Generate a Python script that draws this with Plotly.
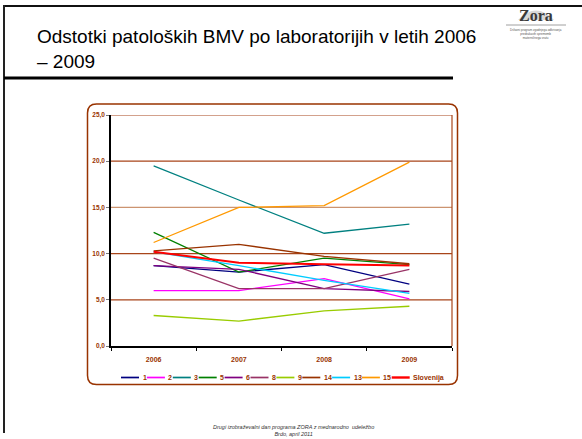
import plotly.graph_objects as go

# ---------------- data ----------------
years = ["2006", "2007", "2008", "2009"]
series_names = ["1", "2", "3", "5", "6", "8", "9", "14", "13", "15", "Slovenija"]
lab_1 = [8.7, 8.0, 8.8, 6.7]
lab_2 = [6.0, 6.0, 7.3, 5.1]
lab_3 = [19.5, 15.8, 12.2, 13.2]
lab_5 = [12.3, 8.0, 9.5, 8.8]
lab_6 = [8.7, 8.3, 6.2, 5.9]
lab_8 = [9.5, 6.2, 6.2, 8.3]
lab_9 = [3.3, 2.7, 3.8, 4.3]
lab_14 = [10.3, 11.0, 9.7, 8.9]
lab_13 = [10.2, 8.7, 7.1, 5.7]
lab_15 = [11.2, 15.0, 15.2, 19.9]
slovenija = [10.2, 9.0, 8.85, 8.7]
y_ticks = [0, 5, 10, 15, 20, 25]

series_values = [lab_1, lab_2, lab_3, lab_5, lab_6, lab_8, lab_9, lab_14, lab_13, lab_15, slovenija]
colors = ["#000080", "#FF00FF", "#008080", "#008000", "#800080", "#993366",
          "#99CC00", "#993300", "#00CCFF", "#FF9900", "#FF0000"]
widths = [1.3] * 10 + [2.0]

BROWN = "#993300"
GRID = "#A8451A"
FONT = "Liberation Sans, Arial, sans-serif"

# ---------------- geometry helpers (pixels -> paper) ----------------
W, H = 582, 439
ML, MR, MT, MB = 111, 130, 115, 93
PW, PH = W - ML - MR, H - MT - MB


def px(x):
    return (x - ML) / PW


def py(y):
    return 1 - (y - MT) / PH


fig = go.Figure()
for name, vals, c, w in zip(series_names, series_values, colors, widths):
    fig.add_trace(go.Scatter(x=years, y=vals, mode="lines", name=name,
                             line=dict(color=c, width=w), showlegend=False,
                             hoverinfo="skip"))

shapes = []
annotations = []

# horizontal gridlines (brown; the 15 line renders lighter in the reference)
for t in y_ticks[1:]:
    shapes.append(dict(type="line", xref="paper", yref="y", x0=0, x1=1, y0=t, y1=t, layer="below",
                       line=dict(color="#CC9470" if t == 15 else GRID, width=1.2)))

# slide frame
shapes.append(dict(type="line", xref="paper", yref="paper", x0=px(4), x1=px(582), y0=py(6), y1=py(6),
                   line=dict(color="#111111", width=2)))
shapes.append(dict(type="line", xref="paper", yref="paper", x0=px(4), x1=px(4), y0=py(5), y1=py(433),
                   line=dict(color="#222222", width=2)))
shapes.append(dict(type="line", xref="paper", yref="paper", x0=px(4), x1=px(453), y0=py(78), y1=py(78),
                   line=dict(color="#000000", width=3)))

# rounded chart box
x0, y0, x1, y1, r = 87.5, 104, 457.5, 384.5, 9
path = (f"M {px(x0+r)},{py(y0)} L {px(x1-r)},{py(y0)} Q {px(x1)},{py(y0)} {px(x1)},{py(y0+r)} "
        f"L {px(x1)},{py(y1-r)} Q {px(x1)},{py(y1)} {px(x1-r)},{py(y1)} "
        f"L {px(x0+r)},{py(y1)} Q {px(x0)},{py(y1)} {px(x0)},{py(y1-r)} "
        f"L {px(x0)},{py(y0+r)} Q {px(x0)},{py(y0)} {px(x0+r)},{py(y0)} Z")
shapes.append(dict(type="path", xref="paper", yref="paper", path=path,
                   line=dict(color=BROWN, width=1.5), layer="below"))

# right border of plot area
shapes.append(dict(type="line", xref="paper", yref="paper", x0=1, x1=1, y0=0, y1=1, layer="below",
                   line=dict(color=GRID, width=1.2)))

# title
annotations.append(dict(text="Odstotki patoloških BMV po laboratorijih v letih 2006<br>– 2009",
                        xref="paper", yref="paper", x=px(35), y=py(23.5), xanchor="left", yanchor="top",
                        align="left", showarrow=False,
                        font=dict(family=FONT, size=19, color="#000000")))

# logo
shapes.append(dict(type="path", xref="paper", yref="paper",
                   path=(f"M {px(518)},{py(20)} Q {px(536)},{py(1)} {px(554)},{py(20)} Z"),
                   fillcolor="#d8d8d8", line=dict(width=0), layer="below"))
annotations.append(dict(text="<b>Zora</b>", xref="paper", yref="paper", x=px(536), y=py(16),
                        xanchor="center", yanchor="middle", showarrow=False,
                        font=dict(family="Liberation Serif, DejaVu Serif, serif", size=16, color="#3a3a3a")))
shapes.append(dict(type="line", xref="paper", yref="paper", x0=px(506), x1=px(566), y0=py(25), y1=py(25),
                   line=dict(color="#888888", width=0.8)))
annotations.append(dict(text="Državni program zgodnjega odkrivanja<br>predrakavih sprememb<br>materničnega vratu",
                        xref="paper", yref="paper", x=px(536), y=py(26), xanchor="center", yanchor="top",
                        showarrow=False, align="center",
                        font=dict(family=FONT, size=3, color="#555555")))

# footer
annotations.append(dict(text="<i>Drugi izobraževalni dan programa ZORA z mednarodno  udeležbo<br>Brdo, april 2011</i>",
                        xref="paper", yref="paper", x=px(293), y=py(430), xanchor="center", yanchor="middle",
                        showarrow=False, align="center",
                        font=dict(family=FONT, size=5.5, color="#333333")))

# legend (drawn manually, one compact row)
leg_y = 377.5
cur = 121.0
for name, c, w in zip(series_names, colors, widths):
    shapes.append(dict(type="line", xref="paper", yref="paper", x0=px(cur), x1=px(cur + 18),
                       y0=py(leg_y), y1=py(leg_y), line=dict(color=c, width=w + 0.4)))
    tw = 3.9 * len(name) if name != "Slovenija" else 30.5
    annotations.append(dict(text=f"<b>{name}</b>", xref="paper", yref="paper", x=px(cur + 19.5), y=py(leg_y),
                            xanchor="left", yanchor="middle", showarrow=False,
                            font=dict(family=FONT, size=7, color=BROWN)))
    cur += 22 + tw

fig.update_layout(
    width=W, height=H,
    margin=dict(l=ML, r=MR, t=MT, b=MB),
    paper_bgcolor="white", plot_bgcolor="rgba(0,0,0,0)",
    separators=",.",
    showlegend=False,
    shapes=shapes, annotations=annotations,
    xaxis=dict(type="category", range=[-0.5, 3.5], tickson="boundaries", ticks="outside", ticklen=3,
               tickcolor="#000000", showline=True, linecolor="#000000", linewidth=1.5, showgrid=False,
               zeroline=False, ticklabelstandoff=6,
               tickfont=dict(family=FONT, size=7, color=BROWN, weight="bold")),
    yaxis=dict(range=[0, 25], tickvals=y_ticks, tickformat=".1f", ticks="outside", ticklen=3,
               tickcolor="#777777", showline=True, linecolor="#000000", linewidth=1.5,
               showgrid=False, zeroline=False,
               tickfont=dict(family=FONT, size=6.5, color=BROWN, weight="bold")),
)

fig.write_html("out.html", config={"displayModeBar": False},
               post_script="document.body.style.margin='0';document.body.style.padding='0';"
                           "document.body.style.overflow='hidden';")
